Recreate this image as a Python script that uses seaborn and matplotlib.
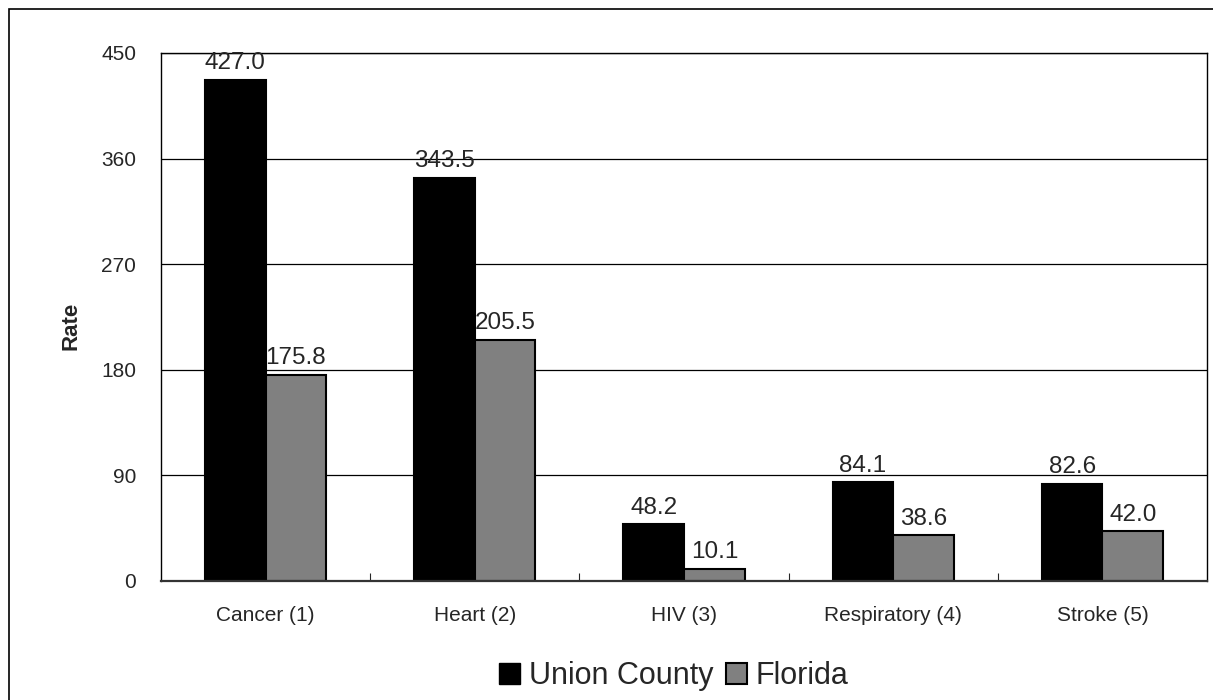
import numpy as np
import pandas as pd
import seaborn as sns
import matplotlib.pyplot as plt
from matplotlib.patches import Rectangle, Patch
from matplotlib.ticker import FixedLocator

# data
causes = ['Cancer (1)', 'Heart (2)', 'HIV (3)', 'Respiratory (4)', 'Stroke (5)']
union_county = [427.0, 343.5, 48.2, 84.1, 82.6]
florida = [175.8, 205.5, 10.1, 38.6, 42.0]
series = ['Union County', 'Florida']
y_ticks = [0, 90, 180, 270, 360, 450]

df = pd.DataFrame({'Cause': causes * 2,
                   'Area': [series[0]] * 5 + [series[1]] * 5,
                   'Rate': union_county + florida})

sns.set_style('white')
plt.rcParams['font.family'] = ['Liberation Sans', 'DejaVu Sans']

fig = plt.figure(figsize=(12.13, 7), dpi=100)
ax = fig.add_axes([161/1213, 1-580.7/700, (1207-161)/1213, (580.7-53)/700])

# outer chart frame (clipped on right and bottom like the original)
fig.patches.append(Rectangle((9/1213, -0.05), 1.2, 1-9/700+0.05, transform=fig.transFigure,
                             fill=False, edgecolor='black', linewidth=1.2))

sns.barplot(data=df, x='Cause', y='Rate', hue='Area', order=causes, hue_order=series,
            palette=['black', '#808080'], edgecolor='black', linewidth=1.5,
            width=0.58, gap=0, saturation=1, legend=False, ax=ax)

for c in ax.containers:
    ax.bar_label(c, fmt='%.1f', fontsize=17.5, padding=4)

ax.set_ylim(0, 450)
ax.set_xlim(-0.5, len(causes) - 0.5)
ax.set_yticks(y_ticks)
ax.yaxis.grid(True, color='black', linewidth=0.9)
ax.set_axisbelow(True)
ax.tick_params(axis='y', labelsize=15, direction='in', length=5, pad=18)
ax.tick_params(axis='x', labelsize=15, length=0, pad=18)
ax.xaxis.set_minor_locator(FixedLocator(np.arange(0.5, len(causes) - 0.5, 1)))
ax.tick_params(axis='x', which='minor', direction='in', length=6, width=0.8, bottom=True)
ax.set_xlabel('')
ax.set_ylabel('Rate', fontsize=16, fontweight='bold')
ax.yaxis.label.set_verticalalignment('center')
ax.yaxis.set_label_coords((71-161)/1046, 0.482)
for s in ax.spines.values():
    s.set_color('black')
    s.set_linewidth(1.0)
ax.spines['bottom'].set_color('#333333')
ax.spines['bottom'].set_linewidth(1.6)

handles = [Patch(facecolor='black', edgecolor='black'),
           Patch(facecolor='#808080', edgecolor='black', linewidth=1.5)]
fig.legend(handles, series, loc='center', bbox_to_anchor=(674/1213, 1-676/700), ncol=2,
           frameon=False, fontsize=22, handlelength=0.68, handleheight=0.68,
           handletextpad=0.3, columnspacing=0.4)

fig.savefig('out.png', dpi=100)
